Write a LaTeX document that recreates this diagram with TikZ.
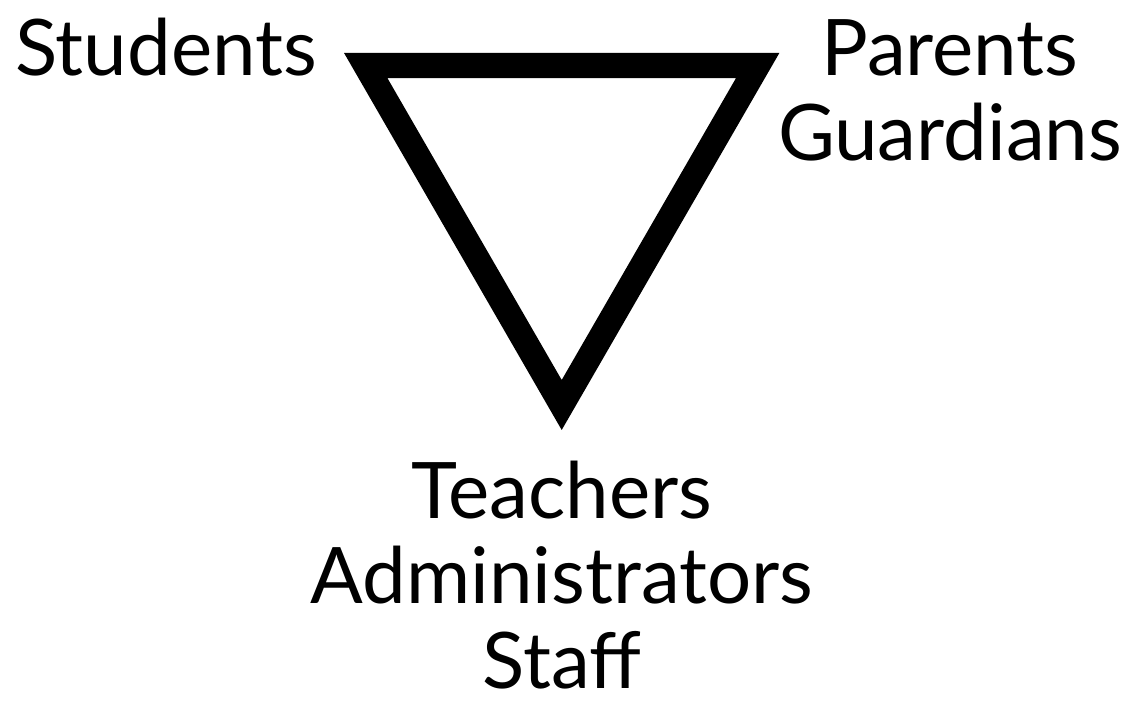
\documentclass[tikz,border=0pt]{standalone}
\usepackage{fontspec}
\setmainfont{Lato}
\usepackage{tikz}
\usetikzlibrary{positioning}

\tikzset{
  label text/.style={font=\fontsize{78}{85}\selectfont, inner sep=0pt, align=center},
  frame line/.style={line width=25pt, line join=miter, black}
}

\begin{document}
\begin{tikzpicture}[x=1pt,y=-1pt]

    \useasboundingbox (0,0) rectangle (1134,725);

    \def\side{392}

    % Corners of the triangle
    \coordinate (topleft) at (365.7,65.5);
    \coordinate (topright) at ({365.7+\side},65.5);
    \coordinate (bottom) at ({365.7+\side/2},{65.5+\side*0.866});

    % Draw the triangle
    \draw[frame line] (topleft) -- (topright) -- (bottom) -- cycle;

    % Label the corners (base sits on the last line)
    \node[label text, anchor=base] (students) at (166,75) {Students};
    \node[label text, anchor=base] (parents) at (950,160) {Parents\\Guardians};
    \node[label text, anchor=base] (teachers) at (562,688) {Teachers\\Administrators\\Staff};

\end{tikzpicture}
\end{document}
